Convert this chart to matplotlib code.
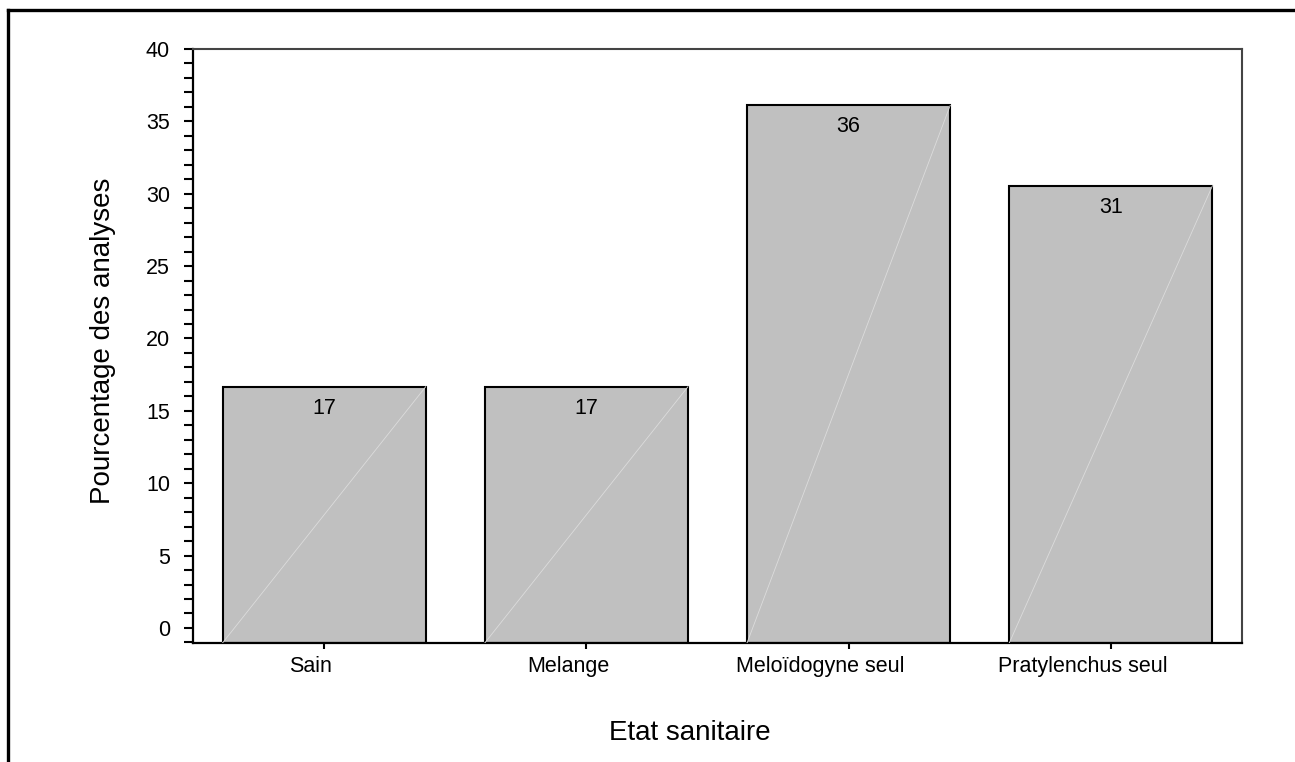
import numpy as np
import matplotlib
matplotlib.use('Agg')
import matplotlib.pyplot as plt
import matplotlib.transforms as mtransforms
from matplotlib.ticker import MultipleLocator
from matplotlib.lines import Line2D

plt.rcParams['font.family'] = ['Liberation Sans', 'DejaVu Sans']

# data
categories = ["Sain", "Melange", "Meloïdogyne seul", "Pratylenchus seul"]
values = [16.67, 16.67, 36.11, 30.56]
bar_labels = ["17", "17", "36", "31"]

fig = plt.figure(figsize=(12.95, 7.62), dpi=100)
ax = fig.add_axes([193/1295, 1 - 643/762, (1242 - 193)/1295, (643 - 49)/762])

ymin, ymax = -1.04, 40
x = np.arange(len(categories))
w = 0.775
# bars rise from the bottom of the axis, as in the original
ax.bar(x, np.array(values) - ymin, bottom=ymin, width=w, color='#c0c0c0',
       edgecolor='black', linewidth=1.5, zorder=2)

# faint diagonal seen inside every bar
for xi, v in zip(x, values):
    ax.plot([xi - w/2, xi + w/2], [ymin, v], color='#dcdcdc', linewidth=0.6, zorder=3)

for xi, v, lab in zip(x, values, bar_labels):
    ax.annotate(lab, (xi, v), xytext=(0, -15.5), textcoords='offset points',
                ha='center', va='center', fontsize=15.5, zorder=4)

ax.set_xlim(-0.5, 3.5)
ax.set_ylim(ymin, ymax)
ax.set_xticks(x)
ax.set_xticklabels(categories, fontsize=15.5)
ax.yaxis.set_major_locator(MultipleLocator(5))
ax.yaxis.set_minor_locator(MultipleLocator(1))
ax.tick_params(axis='y', which='both', length=6.5, width=1.5, pad=10, labelsize=15.5)
ax.tick_params(axis='x', length=4.5, width=1.5, pad=5)

for s in ['left', 'bottom']:
    ax.spines[s].set_linewidth(1.6)
for s in ['top', 'right']:
    ax.spines[s].set_linewidth(1.5)
    ax.spines[s].set_color('#444444')

ax.set_xlabel("Etat sanitaire", fontsize=20)
ax.xaxis.set_label_coords(0.474, -0.152)
ax.xaxis.label.set_va('center')
ax.set_ylabel("Pourcentage des analyses", fontsize=20)
ax.yaxis.set_label_coords(-0.086, 0.508)
ax.yaxis.label.set_va('center')

# the original's category labels sit a bit left of their ticks,
# more so for the longer ones
fig.canvas.draw()
renderer = fig.canvas.get_renderer()
for lab in ax.get_xticklabels():
    wpx = lab.get_window_extent(renderer).width
    shift = -(8 + 0.12 * wpx) / 100.0
    lab.set_transform(lab.get_transform() +
                      mtransforms.ScaledTranslation(shift, 0, fig.dpi_scale_trans))

# outer frame (top and left only)
fig.add_artist(Line2D([8/1295, 1], [1 - 10/762, 1 - 10/762], color='black', linewidth=2.4,
                      transform=fig.transFigure))
fig.add_artist(Line2D([8/1295, 8/1295], [0, 1 - 10/762], color='black', linewidth=2.4,
                      transform=fig.transFigure))

fig.savefig("out.png", dpi=100)
